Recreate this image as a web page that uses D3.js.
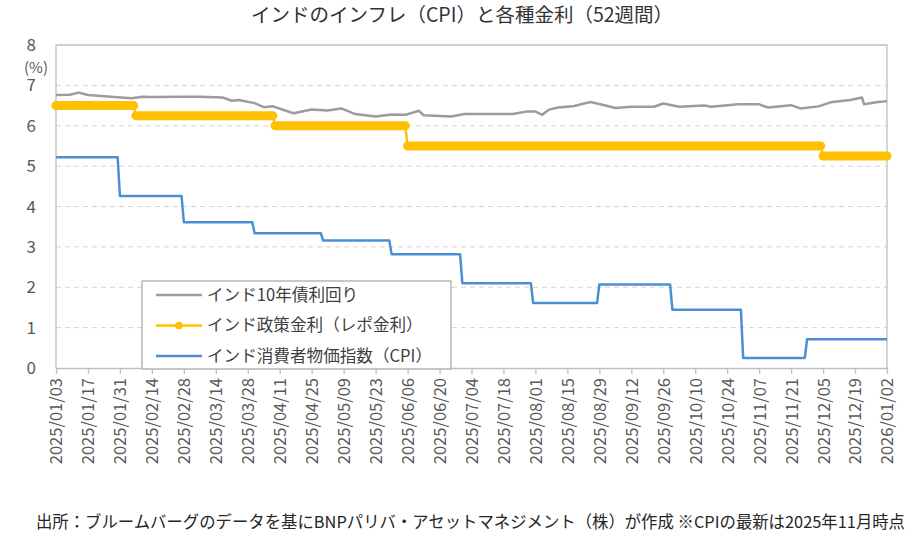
<!DOCTYPE html>
<html>
<head>
<meta charset="utf-8">
<script src="https://cdn.jsdelivr.net/npm/d3@7"></script>
<style>
body{margin:0;background:#fff;}
svg{font-family:"Noto Sans CJK JP","Noto Sans",sans-serif;}
</style>
</head>
<body>
<svg id="chart" width="919" height="551"></svg>
<script>
// India 10y yield
var yieldDates=["2025-01-03","2025-01-09","2025-01-13","2025-01-17","2025-01-27","2025-02-05","2025-02-10","2025-02-14",
"2025-02-27","2025-03-07","2025-03-17","2025-03-21","2025-03-24","2025-03-31","2025-04-04","2025-04-08","2025-04-17",
"2025-04-25","2025-05-02","2025-05-08","2025-05-14","2025-05-23","2025-05-30","2025-06-05","2025-06-11","2025-06-13",
"2025-06-25","2025-07-01","2025-07-22","2025-07-28","2025-08-01","2025-08-04","2025-08-07","2025-08-11","2025-08-18",
"2025-08-25","2025-08-29","2025-09-05","2025-09-12","2025-09-22","2025-09-26","2025-10-03","2025-10-14","2025-10-17",
"2025-10-29","2025-11-07","2025-11-11","2025-11-21","2025-11-25","2025-12-03","2025-12-09","2025-12-17","2025-12-22",
"2025-12-23","2025-12-29","2026-01-02"];
var yieldVals=[6.76,6.77,6.82,6.76,6.72,6.68,6.72,6.71,
6.72,6.72,6.70,6.62,6.64,6.56,6.46,6.48,6.31,
6.40,6.38,6.43,6.29,6.23,6.28,6.27,6.37,6.26,
6.23,6.29,6.29,6.35,6.35,6.27,6.40,6.45,6.49,
6.59,6.54,6.44,6.47,6.47,6.55,6.47,6.50,6.47,
6.53,6.53,6.45,6.51,6.43,6.48,6.59,6.64,6.70,
6.53,6.59,6.61];

// repo rate: change dates and levels
var repoDates=["2025-01-03","2025-02-07","2025-04-09","2025-06-06","2025-12-05"];
var repoVals=[6.5,6.25,6.0,5.5,5.25];

// CPI (month-end dates)
var cpiDates=["2025-01-03","2025-01-31","2025-02-28","2025-03-31","2025-04-30","2025-05-30","2025-06-30",
"2025-07-31","2025-08-29","2025-09-30","2025-10-31","2025-11-28"];
var cpiVals=[5.22,4.26,3.61,3.34,3.16,2.82,2.10,1.61,2.07,1.44,0.25,0.71];

var yTicks=[0,1,2,3,4,5,6,7,8];
var startDate="2025-01-03", endDate="2026-01-02";
var legendNames=["インド10年債利回り","インド政策金利（レポ金利）","インド消費者物価指数（CPI）"];
var colors=["#9c9c9c","#ffc000","#4a8fd6"];

var parse=d3.timeParse("%Y-%m-%d");
var fmt=d3.timeFormat("%Y/%m/%d");
var svg=d3.select("#chart");
var pLeft=56,pRight=887,pTop=45,pBottom=368;

var x=d3.scaleTime().domain([parse(startDate),parse(endDate)]).range([pLeft,pRight]);
var y=d3.scaleLinear().domain([0,8]).range([pBottom,pTop]);

//title
svg.append("text").attr("x",462).attr("y",22).attr("text-anchor","middle")
  .attr("font-size",19.5).attr("fill","#333").text("インドのインフレ（CPI）と各種金利（52週間）");

//grid
svg.append("g").selectAll("line").data(yTicks.filter(d=>d>0&&d<8)).enter().append("line")
  .attr("x1",pLeft).attr("x2",pRight).attr("y1",d=>y(d)).attr("y2",d=>y(d))
  .attr("stroke","#d4d4d4").attr("stroke-dasharray","5,4");

//frame
svg.append("path").attr("d","M"+pLeft+","+pBottom+"V"+pTop+"H"+pRight+"V"+pBottom)
  .attr("fill","none").attr("stroke","#bfbfbf").attr("stroke-width",1.3);

//y labels
svg.append("g").selectAll("text").data(yTicks).enter().append("text")
  .attr("x",36).attr("y",d=>y(d)).attr("dy","0.36em").attr("text-anchor","end")
  .attr("font-size",17).attr("fill","#595959").text(d=>d);
svg.append("text").attr("x",36).attr("y",72.5).attr("text-anchor","middle")
  .attr("font-size",15).attr("fill","#595959").text("(%)");

//x axis
var ticks=d3.timeDay.every(1).range(parse(startDate),d3.timeDay.offset(parse(endDate),1)).filter((d,i)=>i%14==0);
var xAxis=d3.axisBottom(x).tickValues(ticks).tickFormat(fmt).tickSize(6).tickSizeOuter(0);
var gx=svg.append("g").attr("transform","translate(0,"+pBottom+")").call(xAxis);
gx.select(".domain").attr("stroke","#bfbfbf").attr("stroke-width",1.3);
gx.selectAll(".tick line").attr("stroke","#bfbfbf").attr("stroke-width",1.3);
gx.selectAll(".tick text").attr("font-family","Noto Sans CJK JP").attr("font-size",16.5).attr("fill","#595959")
  .attr("transform","rotate(-90)").attr("text-anchor","end").attr("x",-10).attr("y",0).attr("dy","0.36em");

var line=d3.line().x(d=>x(d[0])).y(d=>y(d[1]));

//10y yield
var yieldPts=yieldDates.map((d,i)=>[parse(d),yieldVals[i]]);
svg.append("path").datum(yieldPts).attr("d",line).attr("fill","none")
  .attr("stroke",colors[0]).attr("stroke-width",2.5).attr("stroke-linejoin","round");

//step helper: each level runs until the day before the next change
function stepPts(dates,vals){
  let pts=[];
  dates.forEach((d,i)=>{
    let s=parse(d);
    let e=i<dates.length-1?d3.timeDay.offset(parse(dates[i+1]),-1):parse(endDate);
    pts.push([[s,vals[i]],[e,vals[i]]]);
  });
  return pts;
}

//repo
var repoSeg=stepPts(repoDates,repoVals);
svg.append("path").datum(repoSeg.flat()).attr("d",line).attr("fill","none")
  .attr("stroke",colors[1]).attr("stroke-width",2.5);
svg.append("g").selectAll("path").data(repoSeg).enter().append("path")
  .attr("d",line).attr("fill","none").attr("stroke",colors[1]).attr("stroke-width",9).attr("stroke-linecap","round");

//CPI
var cpiSeg=stepPts(cpiDates,cpiVals);
svg.append("path").datum(cpiSeg.flat()).attr("d",line).attr("fill","none")
  .attr("stroke",colors[2]).attr("stroke-width",2.5).attr("stroke-linejoin","round");

//legend
var lg=svg.append("g");
lg.append("rect").attr("x",142).attr("y",281).attr("width",309).attr("height",88)
  .attr("fill","#fff").attr("stroke","#a6a6a6").attr("stroke-width",1.2);
legendNames.forEach((name,i)=>{
  let ly=295+i*30.5;
  lg.append("line").attr("x1",156).attr("x2",202).attr("y1",ly).attr("y2",ly)
    .attr("stroke",colors[i]).attr("stroke-width",2.5);
  if(i==1) lg.append("circle").attr("cx",179).attr("cy",ly).attr("r",3.8).attr("fill",colors[i]);
  lg.append("text").attr("x",207).attr("y",ly).attr("dy","0.36em").attr("font-size",16.6)
    .attr("fill","#404040").text(name);
});

//footer
svg.append("text").attr("x",36).attr("y",528).attr("font-size",16.5).attr("fill","#262626")
  .attr("textLength",869).attr("lengthAdjust","spacingAndGlyphs")
  .text("出所：ブルームバーグのデータを基にBNPパリバ・アセットマネジメント（株）が作成 ※CPIの最新は2025年11月時点");
</script>
</body>
</html>
